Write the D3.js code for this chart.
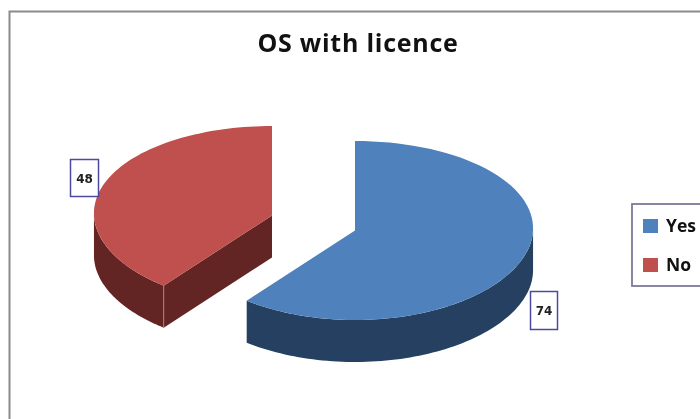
<!DOCTYPE html>
<html><head><meta charset="utf-8">
<script src="https://cdnjs.cloudflare.com/ajax/libs/d3/7.8.5/d3.min.js"></script>
<style>
html,body{margin:0;padding:0;background:#fff;overflow:hidden}
svg{display:block;filter:blur(0.5px)}
</style></head><body>
<svg id="c" width="700" height="419"></svg>
<script>
const categories = ["Yes", "No"];
const values = [74, 48];
const chartTitle = "OS with licence";
const topColors = ["#4F81BD", "#C0504D"];
const sideColors = ["#254061", "#632523"];

const svg = d3.select("#c");
const rx = 178, ry = 89.5, depth = 42, skew = 0.025;
const centers = [[355, 230.5], [272, 215.5]];
const labelBoxes = [[530, 291, 27, 38], [70, 159, 28, 37]];
const legendY = [225, 264];

svg.append("rect").attr("x", 9.5).attr("y", 11.5).attr("width", 720).attr("height", 430)
  .attr("fill", "#fff").attr("stroke", "#8a8a8a").attr("stroke-width", 2);

svg.append("text").attr("x", 358).attr("y", 52).attr("text-anchor", "middle")
  .attr("font-family", "'Open Sans'").attr("font-weight", 700).attr("font-size", 25)
  .attr("letter-spacing", "0.75").attr("fill", "#111").text(chartTitle);

const pie = d3.pie().sort(null).value(d => d);
const slices = pie(values);
const px = a => rx * Math.sin(a) * (1 + skew * Math.cos(a));
const py = a => -ry * Math.cos(a);
const line = d3.line();
const steps = (a0, a1) => d3.range(0, 81).map(i => a0 + (a1 - a0) * i / 80);

const HALF = Math.PI / 2, ONEHALF = 3 * Math.PI / 2;

slices.forEach((s, i) => {
  const [cx, cy] = centers[i];
  const g = svg.append("g");
  const a0 = Math.max(s.startAngle, HALF - skew), a1 = Math.min(s.endAngle, ONEHALF + skew);
  if (a1 > a0) {
    const angles = steps(a0, a1);
    const top = angles.map(a => [cx + px(a), cy + py(a)]);
    const bot = angles.slice().reverse().map(a => [cx + px(a), cy + py(a) + depth]);
    g.append("path").attr("d", line(top.concat(bot)) + "Z").attr("fill", sideColors[i]);
  }
  // cut face that looks toward the viewer
  if (s.startAngle > Math.PI && s.startAngle < ONEHALF) {
    const tx = cx + px(s.startAngle), ty = cy + py(s.startAngle);
    g.append("path").attr("d", line([[cx, cy], [tx, ty], [tx, ty + depth], [cx, cy + depth]]) + "Z")
      .attr("fill", sideColors[i]);
    g.append("path").attr("d", line([[tx, ty], [tx, ty + depth]]))
      .attr("stroke", "#B08078").attr("stroke-width", 1).attr("fill", "none");
  }
  const rim = steps(s.startAngle, s.endAngle).map(a => [cx + px(a), cy + py(a)]);
  g.append("path").attr("d", line([[cx, cy], ...rim]) + "Z").attr("fill", topColors[i]);
});

// data labels
values.forEach((v, i) => {
  const [x, y, w, h] = labelBoxes[i];
  svg.append("rect").attr("x", x + .5).attr("y", y + .5).attr("width", w).attr("height", h)
    .attr("fill", "#fff").attr("stroke", "#4A4AA0").attr("stroke-width", 1.5);
  svg.append("text").attr("x", x + w / 2 + .5).attr("y", y + h / 2 + 5)
    .attr("text-anchor", "middle").attr("font-family", "'DejaVu Sans'").attr("font-weight", 700)
    .attr("font-size", 12).attr("fill", "#222").text(v);
});

// legend
svg.append("rect").attr("x", 632).attr("y", 204).attr("width", 90).attr("height", 82)
  .attr("fill", "#fff").attr("stroke", "#7A7A9A").attr("stroke-width", 1.8);
categories.forEach((c, i) => {
  svg.append("rect").attr("x", 643).attr("y", legendY[i] - 6).attr("width", 15).attr("height", 14)
    .attr("fill", topColors[i]);
  svg.append("text").attr("x", 666).attr("y", legendY[i] + 7)
    .attr("font-family", "'Open Sans'").attr("font-weight", 700).attr("font-size", 17.5)
    .attr("fill", "#111").text(c);
});
</script>
</body></html>
